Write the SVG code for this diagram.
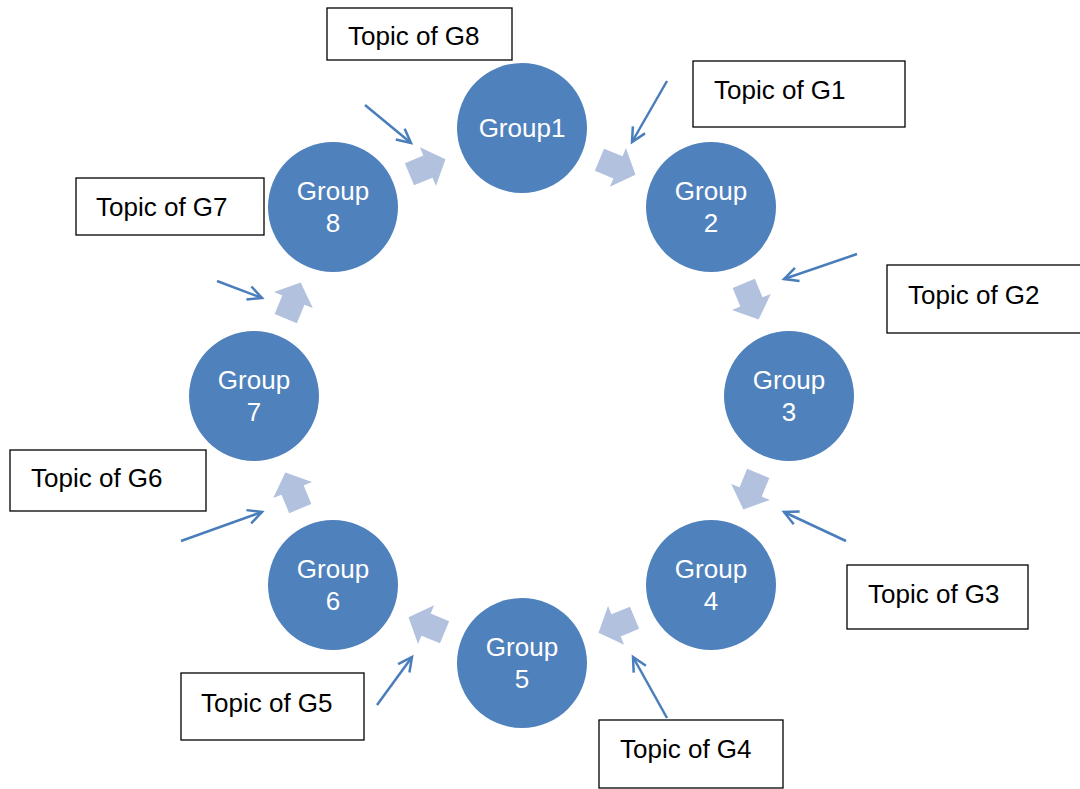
<svg xmlns="http://www.w3.org/2000/svg" width="1080" height="789" viewBox="0 0 1080 789">
<style>
.node circle{fill:#4F81BD}
.ct{font-family:"Liberation Sans",Arial,sans-serif;font-size:26px;fill:#FFFFFF;text-anchor:middle}
.box rect{fill:#FFFFFF;stroke:#000000;stroke-width:1.3}
.bt{font-family:"Liberation Sans",Arial,sans-serif;font-size:26px;fill:#000000}
.blk{fill:#B2C2DE}
.ln{stroke:#4A7EBB;stroke-width:2.5;fill:none;marker-end:url(#open)}
</style>
<defs>
<marker id="open" viewBox="0 0 16 16" refX="15" refY="8" markerWidth="16" markerHeight="16" markerUnits="userSpaceOnUse" orient="auto" overflow="visible">
<path d="M1,1 L15,8 L1,15" fill="none" stroke="#4A7EBB" stroke-width="2.5" stroke-linejoin="miter"/>
</marker>
<path id="ba" d="M-19,-12 L1,-12 L1,-21 L20,0 L1,21 L1,12 L-19,12 Z"/>
</defs>
<rect width="1080" height="789" fill="#FFFFFF"/>
<g id="block-arrows" class="blk">
<use href="#ba" transform="translate(427,167) rotate(-22.5)"/>
<use href="#ba" transform="translate(617,167) rotate(22.5)"/>
<use href="#ba" transform="translate(751,301) rotate(67.5)"/>
<use href="#ba" transform="translate(751,491) rotate(112.5)"/>
<use href="#ba" transform="translate(617,625) rotate(157.5)"/>
<use href="#ba" transform="translate(427,625) rotate(202.5)"/>
<use href="#ba" transform="translate(293,491) rotate(247.5)"/>
<use href="#ba" transform="translate(293,301) rotate(292.5)"/>
</g>
<g id="g1" class="node"><circle cx="522" cy="128" r="65"/><text class="ct" x="522" y="137">Group1</text></g>
<g id="g2" class="node"><circle cx="711" cy="207" r="65"/><text class="ct" x="711" y="200">Group</text><text class="ct" x="711" y="232">2</text></g>
<g id="g3" class="node"><circle cx="789" cy="396" r="65"/><text class="ct" x="789" y="389">Group</text><text class="ct" x="789" y="421">3</text></g>
<g id="g4" class="node"><circle cx="711" cy="585" r="65"/><text class="ct" x="711" y="578">Group</text><text class="ct" x="711" y="610">4</text></g>
<g id="g5" class="node"><circle cx="522" cy="663" r="65"/><text class="ct" x="522" y="656">Group</text><text class="ct" x="522" y="688">5</text></g>
<g id="g6" class="node"><circle cx="333" cy="585" r="65"/><text class="ct" x="333" y="578">Group</text><text class="ct" x="333" y="610">6</text></g>
<g id="g7" class="node"><circle cx="254" cy="396" r="65"/><text class="ct" x="254" y="389">Group</text><text class="ct" x="254" y="421">7</text></g>
<g id="g8" class="node"><circle cx="333" cy="207" r="65"/><text class="ct" x="333" y="200">Group</text><text class="ct" x="333" y="232">8</text></g>
<g id="t8" class="box"><rect x="327" y="8" width="185" height="52"/><text class="bt" x="348" y="45">Topic of G8</text></g>
<g id="t1" class="box"><rect x="693" y="61" width="212" height="66"/><text class="bt" x="714" y="99">Topic of G1</text></g>
<g id="t2" class="box"><rect x="887" y="265" width="200" height="68"/><text class="bt" x="908" y="304">Topic of G2</text></g>
<g id="t3" class="box"><rect x="847" y="565" width="181" height="64"/><text class="bt" x="868" y="603">Topic of G3</text></g>
<g id="t4" class="box"><rect x="599" y="720" width="184" height="68"/><text class="bt" x="620" y="758">Topic of G4</text></g>
<g id="t5" class="box"><rect x="181" y="673" width="183" height="67"/><text class="bt" x="201" y="712">Topic of G5</text></g>
<g id="t6" class="box"><rect x="10" y="450" width="196" height="61"/><text class="bt" x="31" y="487">Topic of G6</text></g>
<g id="t7" class="box"><rect x="76" y="178" width="188" height="57"/><text class="bt" x="96" y="216">Topic of G7</text></g>
<g id="connectors">
<line class="ln" x1="365" y1="105" x2="411" y2="143"/>
<line class="ln" x1="667" y1="81" x2="632" y2="142"/>
<line class="ln" x1="857" y1="254" x2="784" y2="279"/>
<line class="ln" x1="846" y1="541" x2="784" y2="512"/>
<line class="ln" x1="667" y1="718" x2="633" y2="657"/>
<line class="ln" x1="377" y1="705" x2="412" y2="657"/>
<line class="ln" x1="181" y1="541" x2="262" y2="512"/>
<line class="ln" x1="217" y1="281" x2="262" y2="298"/>
</g>
</svg>
